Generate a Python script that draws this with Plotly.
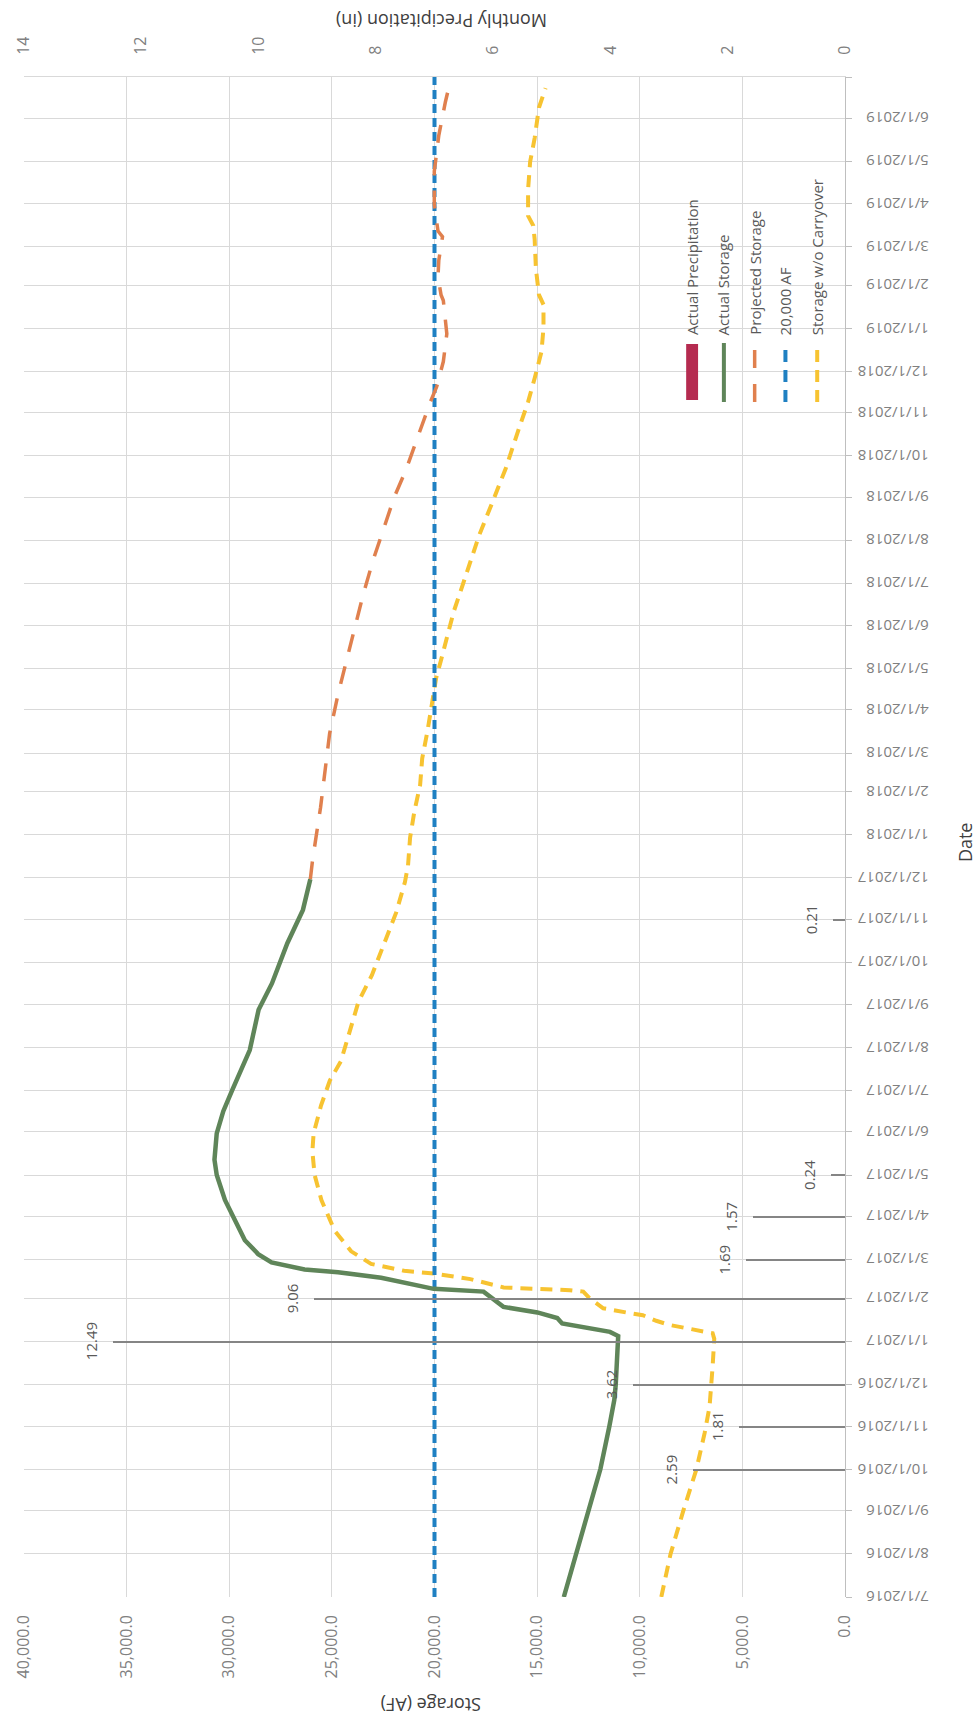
import plotly.graph_objects as go

# ---- data -------------------------------------------------------------
precip_dates = ["2016-10-01", "2016-11-01", "2016-12-01", "2017-01-01", "2017-02-01",
                "2017-03-01", "2017-04-01", "2017-05-01", "2017-11-01"]
precip_in = [2.59, 1.81, 3.62, 12.49, 9.06, 1.69, 1.57, 0.24, 0.21]

actual_dates = ["2016-07-01", "2016-08-01", "2016-09-01", "2016-10-01", "2016-11-01",
                "2016-11-20", "2016-12-01", "2016-12-20", "2017-01-05", "2017-01-08",
                "2017-01-11", "2017-01-14", "2017-01-18", "2017-01-22", "2017-01-26",
                "2017-01-31", "2017-02-06", "2017-02-08", "2017-02-16", "2017-02-20",
                "2017-02-22", "2017-02-27", "2017-03-05", "2017-03-15", "2017-03-29",
                "2017-04-13", "2017-05-01", "2017-05-12", "2017-05-31", "2017-06-16",
                "2017-07-01", "2017-07-30", "2017-08-28", "2017-09-16", "2017-10-15",
                "2017-11-08", "2017-11-30"]
actual_af = [13700, 13100, 12550, 11920, 11480,
             11240, 11170, 11080, 11050, 11450,
             12570, 13780, 14020, 14990, 16640,
             17120, 17610, 20040, 22600, 24700,
             26330, 27940, 28590, 29240, 29720,
             30210, 30610, 30720, 30610, 30290,
             29860, 29000, 28570, 27920, 27170,
             26410, 26050]

projected_dates = ["2017-11-30", "2017-12-14", "2018-01-21", "2018-02-19", "2018-03-15",
                   "2018-04-13", "2018-05-07", "2018-05-31", "2018-06-24", "2018-07-18",
                   "2018-08-05", "2018-09-01", "2018-09-21", "2018-10-14", "2018-11-09",
                   "2018-11-20", "2018-12-08", "2018-12-28", "2019-01-04", "2019-01-21",
                   "2019-01-25", "2019-02-07", "2019-02-19", "2019-03-08", "2019-03-12",
                   "2019-03-31", "2019-04-24", "2019-05-20", "2019-06-13", "2019-06-30"]
projected_af = [26050, 25940, 25550, 25320, 25110,
                24690, 24270, 23840, 23460, 22990,
                22580, 21970, 21390, 20850, 20200,
                19890, 19570, 19400, 19460, 19570,
                19680, 19830, 19790, 19610, 19830,
                20010, 20010, 19790, 19470, 19200]

target_dates = ["2016-07-01", "2019-07-01"]
target_af = [20000, 20000]

nocarry_dates = ["2016-07-01", "2016-08-01", "2016-09-01", "2016-10-01", "2016-10-27",
                 "2016-11-15", "2016-12-14", "2017-01-03", "2017-01-07", "2017-01-10",
                 "2017-01-13", "2017-01-16", "2017-01-20", "2017-01-22", "2017-01-25",
                 "2017-02-01", "2017-02-06", "2017-02-07", "2017-02-08", "2017-02-09",
                 "2017-02-15", "2017-02-19", "2017-02-21", "2017-02-26", "2017-03-07",
                 "2017-03-22", "2017-04-13", "2017-05-01", "2017-05-18", "2017-05-31",
                 "2017-06-20", "2017-07-08", "2017-07-22", "2017-08-13", "2017-09-03",
                 "2017-09-22", "2017-10-16", "2017-11-06", "2017-11-28", "2017-12-10",
                 "2017-12-30", "2018-01-18", "2018-02-06", "2018-02-25", "2018-03-17",
                 "2018-04-05", "2018-04-24", "2018-05-06", "2018-05-23", "2018-06-11",
                 "2018-06-30", "2018-07-19", "2018-08-05", "2018-08-29", "2018-09-22",
                 "2018-10-21", "2018-11-09", "2018-11-26", "2018-12-15", "2019-01-01",
                 "2019-01-18", "2019-01-25", "2019-02-13", "2019-03-06", "2019-03-16",
                 "2019-03-23", "2019-04-11", "2019-05-01", "2019-05-18", "2019-06-09",
                 "2019-06-23"]
nocarry_af = [8950, 8500, 7880, 7240, 6840,
              6600, 6450, 6370, 6450, 7420,
              8550, 9200, 9850, 10660, 11780,
              12430, 12750, 13400, 15010, 16630,
              18250, 20030, 21480, 23090, 24060,
              24870, 25510, 25840, 25950, 25890,
              25530, 25100, 24560, 24130, 23700,
              23050, 22410, 21870, 21440, 21290,
              21190, 20980, 20700, 20600, 20340,
              20130, 19920, 19700, 19380, 19060,
              18630, 18200, 17820, 17170, 16530,
              15880, 15440, 15120, 14790, 14690,
              14690, 14910, 15060, 15120, 15190,
              15440, 15440, 15340, 15120, 14910,
              14590]

# monthly date ticks 7/1/2016 .. 6/1/2019, plus the closing 7/1/2019 edge
month_ticks = []
month_labels = []
for i in range(37):
    y, m = 2016 + (6 + i) // 12, (6 + i) % 12 + 1
    month_ticks.append(f"{y}-{m:02d}-01")
    month_labels.append(f"{m}/1/{y}" if i < 36 else "")

storage_ticks = list(range(0, 40001, 5000))
storage_labels = [f"{v:,.1f}" for v in storage_ticks]
precip_ticks = list(range(0, 15, 2))

series_names = ["Actual Precipitation", "Actual Storage", "Projected Storage",
                "20,000 AF", "Storage w/o Carryover"]

# ---- styling ----------------------------------------------------------
FONT = "Open Sans"
C_PRECIP = "#b52b50"
C_BAR = "#858585"
C_ACTUAL = "#5f8559"
C_PROJ = "#e0804e"
C_TARGET = "#1f80c2"
C_NOCARRY = "#f7c331"
GRID = "#d9d9d9"
TICKTXT = "#808080"

W, H = 976, 1722
L, R, T, B = 18, 845, 77, 1597   # plot-area edges in page pixels


def px(x):
    return (x - L) / (R - L)


def py(y):
    return (B - y) / (B - T)


fig = go.Figure()

fig.add_trace(go.Bar(
    x=precip_in, y=precip_dates, orientation="h", xaxis="x2", yaxis="y",
    width=1.1 * 86400000, marker=dict(color=C_BAR, line=dict(width=0)),
    name=series_names[0], showlegend=False))

fig.add_trace(go.Scatter(
    x=nocarry_af, y=nocarry_dates, mode="lines", name=series_names[4],
    line=dict(color=C_NOCARRY, width=4, dash="12px,8px"), showlegend=False))
fig.add_trace(go.Scatter(
    x=target_af, y=target_dates, mode="lines", name=series_names[3],
    line=dict(color=C_TARGET, width=4, dash="9px,5px"), showlegend=False))
fig.add_trace(go.Scatter(
    x=projected_af, y=projected_dates, mode="lines", name=series_names[2],
    line=dict(color=C_PROJ, width=3.5, dash="18px,15px"), showlegend=False))
fig.add_trace(go.Scatter(
    x=actual_af, y=actual_dates, mode="lines", name=series_names[1],
    line=dict(color=C_ACTUAL, width=4.5), showlegend=False))

annotations = []
# date labels, set upside down beside the date axis
for d, lab in zip(month_ticks, month_labels):
    if lab:
        annotations.append(dict(
            x=px(931), y=d, xref="paper", yref="y", text=lab, showarrow=False,
            textangle=180, xanchor="right", yanchor="middle",
            font=dict(family=FONT, size=15, color=TICKTXT)))

# precipitation value labels beyond each bar tip
for d, v in zip(precip_dates, precip_in):
    annotations.append(dict(
        x=v, y=d, xref="x2", yref="y", text=f"{v:.2f}", showarrow=False,
        textangle=-90, xanchor="right", yanchor="middle", xshift=-10,
        font=dict(family=FONT, size=15, color="#595959")))

# axis titles
annotations += [
    dict(x=px(438), y=py(21), xref="paper", yref="paper", text="Monthly Precipitation (in)",
         showarrow=False, textangle=180, xanchor="center", yanchor="middle",
         font=dict(family=FONT, size=18, color="#404040")),
    dict(x=px(428), y=py(1705), xref="paper", yref="paper", text="Storage (AF)",
         showarrow=False, textangle=180, xanchor="center", yanchor="middle",
         font=dict(family=FONT, size=18, color="#404040")),
    dict(x=px(966), y=py(842), xref="paper", yref="paper", text="Date",
         showarrow=False, textangle=-90, xanchor="center", yanchor="middle",
         font=dict(family=FONT, size=18, color="#404040")),
]

# legend (entries side by side, text running upward)
legend_x = [691, 723, 754, 785, 817]
shapes = []
shapes.append(dict(type="rect", xref="paper", yref="paper",
                   x0=px(685), x1=px(697), y0=py(400), y1=py(344),
                   fillcolor=C_PRECIP, line=dict(width=0)))
shapes.append(dict(type="line", xref="paper", yref="paper",
                   x0=px(723), x1=px(723), y0=py(402), y1=py(343),
                   line=dict(color=C_ACTUAL, width=4)))
shapes.append(dict(type="line", xref="paper", yref="paper",
                   x0=px(754), x1=px(754), y0=py(402), y1=py(348),
                   line=dict(color=C_PROJ, width=3.5, dash="18px,16px")))
shapes.append(dict(type="line", xref="paper", yref="paper",
                   x0=px(785), x1=px(785), y0=py(402), y1=py(348),
                   line=dict(color=C_TARGET, width=4, dash="12px,8px")))
shapes.append(dict(type="line", xref="paper", yref="paper",
                   x0=px(817), x1=px(817), y0=py(402), y1=py(348),
                   line=dict(color=C_NOCARRY, width=4, dash="12px,8px")))
for name, lx in zip(series_names, legend_x):
    annotations.append(dict(
        x=px(lx), y=py(337), xref="paper", yref="paper", text=name, showarrow=False,
        textangle=-90, xanchor="center", yanchor="bottom",
        font=dict(family=FONT, size=15, color="#595959")))

fig.update_layout(
    width=W, height=H,
    margin=dict(l=L, r=W - R, t=T, b=H - B, pad=0),
    paper_bgcolor="white", plot_bgcolor="white",
    font=dict(family=FONT, color=TICKTXT),
    bargap=0,
    xaxis=dict(
        range=[40000, 0], tickvals=storage_ticks, ticktext=storage_labels,
        tickangle=-90, showgrid=True, gridcolor=GRID, gridwidth=1,
        zeroline=False, showline=False, ticks="", ticklabelstandoff=14,
        tickfont=dict(family=FONT, size=16, color=TICKTXT)),
    xaxis2=dict(
        range=[14, 0], overlaying="x", side="top", anchor="y",
        tickvals=precip_ticks, tickangle=-90, showgrid=False, zeroline=False,
        showline=True, linecolor=GRID, ticks="", ticklabelstandoff=18,
        tickfont=dict(family=FONT, size=16, color=TICKTXT)),
    yaxis=dict(
        type="date", range=["2016-07-01", "2019-07-01"], side="right",
        tickvals=month_ticks, showticklabels=False,
        showgrid=True, gridcolor=GRID, gridwidth=1, zeroline=False,
        showline=True, linecolor="#bfbfbf", ticks="outside", ticklen=6,
        tickcolor="#bfbfbf"),
    annotations=annotations,
    shapes=shapes,
    showlegend=False,
)

fig.write_html("out.html")
